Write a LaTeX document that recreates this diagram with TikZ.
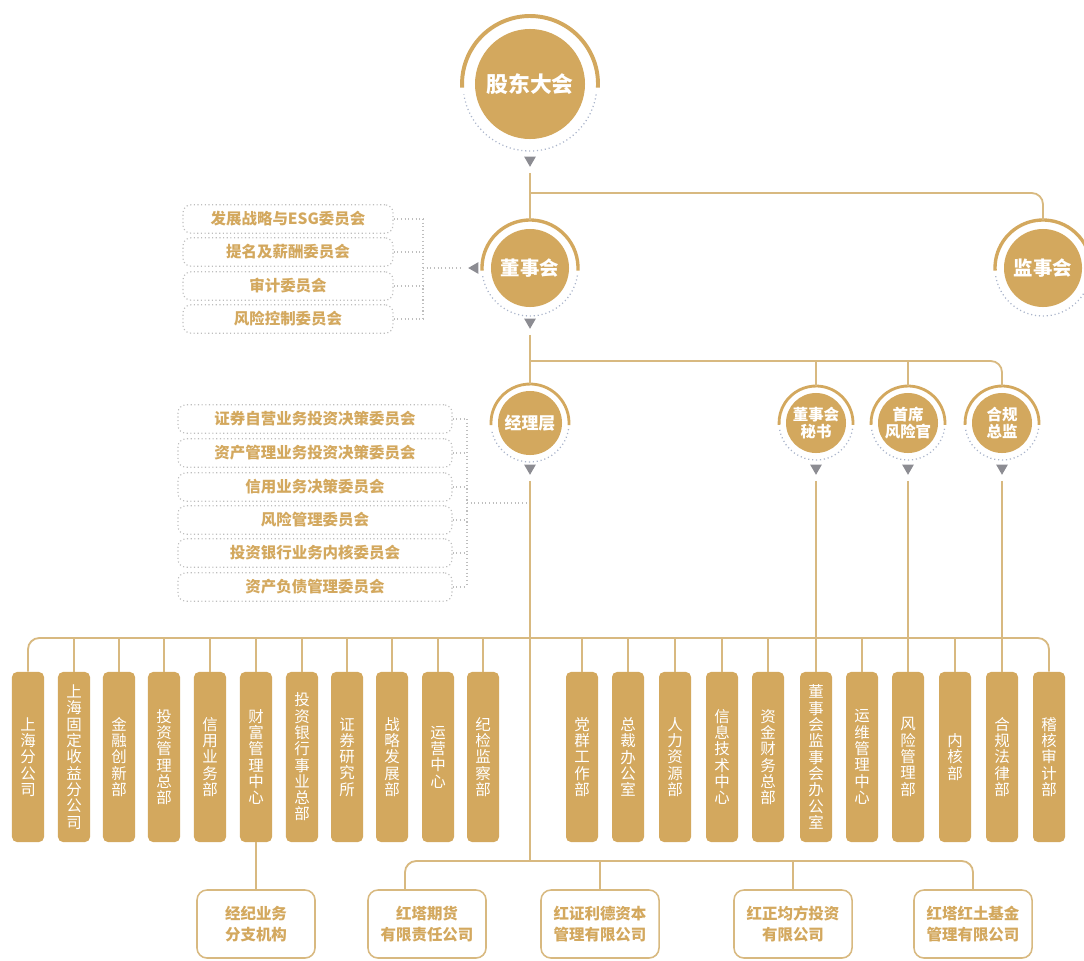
\documentclass[tikz,border=0pt]{standalone}
\usepackage{fontspec}
\setmainfont{Noto Sans CJK SC}
\usetikzlibrary{shapes.geometric}
\definecolor{gold}{RGB}{211,168,94}
\definecolor{linegold}{RGB}{216,185,128}
\definecolor{ringdot}{RGB}{170,180,202}
\definecolor{trigray}{RGB}{140,140,146}
\definecolor{boxdot}{RGB}{190,190,190}

\begin{document}
\begin{tikzpicture}[x=0.025cm, y=0.025cm,
  goldline/.style={draw=linegold, line width=1.3pt},
  ringline/.style={draw=gold, line width=2pt},
  ringdots/.style={draw=ringdot, line width=0.9pt, dash pattern=on 0.8pt off 2pt},
  dotline/.style={draw=boxdot, line width=0.8pt, dash pattern=on 0.8pt off 1.8pt},
  tri/.style={regular polygon, regular polygon sides=3, fill=trigray, inner sep=0pt, minimum size=0.34cm, shape border rotate=180},
  hub/.style={circle, fill=gold, text=white, inner sep=0pt, align=center},
  dept/.style={rectangle, rounded corners=0.125cm, fill=gold, text=white, minimum width=0.8cm, minimum height=4.25cm, align=center, inner sep=0pt, font=\fontsize{11}{11.6}\selectfont},
  cmte/.style={rectangle, rounded corners=0.2cm, draw=boxdot, line width=0.8pt, dash pattern=on 0.8pt off 1.8pt, text=gold, font=\bfseries\fontsize{11}{12}\selectfont, minimum height=0.71cm},
  sub/.style={rectangle, rounded corners=0.25cm, draw=linegold, line width=1.1pt, fill=white, text=gold, font=\bfseries\fontsize{11}{15.5}\selectfont, align=center, minimum width=2.95cm, minimum height=1.7cm}
]
\useasboundingbox (0,0) rectangle (1084,-960);

% top circles
\node [hub, minimum size=2.75cm, font=\bfseries\fontsize{15.5}{18}\selectfont] (sh) at (530,-84) {股东大会};
\draw [ringline, line width=2.8pt] ([shift={(-3:68)}]sh.center) arc (-3:183:68);
\draw [ringdots] ([shift={(-9:67)}]sh.center) arc (-9:-171:67);
\node [tri] (shtri) at (530,-160) {};

\node [hub, minimum size=1.95cm, outer sep=0.225cm, font=\bfseries\fontsize{13.8}{16}\selectfont] (board) at (530,-268) {董事会};
\draw [ringline, line width=2.4pt] ([shift={(-3:48)}]board.center) arc (-3:183:48);
\draw [ringdots] ([shift={(-9:48)}]board.center) arc (-9:-171:48);
\node [tri] (bdtri) at (530,-322) {};
\node [tri, shape border rotate=90] (bdleft) at (475,-268) {};

\node [hub, minimum size=1.95cm, outer sep=0.225cm, font=\bfseries\fontsize{13.8}{16}\selectfont] (sup) at (1043,-268) {监事会};
\draw [ringline, line width=2.4pt] ([shift={(-3:48)}]sup.center) arc (-3:183:48);
\draw [ringdots] ([shift={(-9:48)}]sup.center) arc (-9:-171:48);

% second row of circles
\node [hub, minimum size=1.6cm, outer sep=0.175cm, font=\bfseries\fontsize{12}{14}\selectfont] (mgr) at (530,-423) {经理层};
\draw [ringline] ([shift={(-3:39)}]mgr.center) arc (-3:183:39);
\draw [ringdots] ([shift={(-9:39)}]mgr.center) arc (-9:-171:39);
\node [tri] (mgtri) at (530,-468) {};

\node [hub, minimum size=1.5cm, outer sep=0.175cm, font=\bfseries\fontsize{11}{12}\selectfont] (sec) at (816,-423) {董事会\\秘书};
\draw [ringline] ([shift={(-3:37)}]sec.center) arc (-3:183:37);
\draw [ringdots] ([shift={(-9:37)}]sec.center) arc (-9:-171:37);
\node [tri] (sectri) at (816,-468) {};

\node [hub, minimum size=1.5cm, outer sep=0.175cm, font=\bfseries\fontsize{11}{12}\selectfont] (cro) at (908,-423) {首席\\风险官};
\draw [ringline] ([shift={(-3:37)}]cro.center) arc (-3:183:37);
\draw [ringdots] ([shift={(-9:37)}]cro.center) arc (-9:-171:37);
\node [tri] (crotri) at (908,-468) {};

\node [hub, minimum size=1.5cm, outer sep=0.175cm, font=\bfseries\fontsize{11}{12}\selectfont] (cmp) at (1002,-423) {合规\\总监};
\draw [ringline] ([shift={(-3:37)}]cmp.center) arc (-3:183:37);
\draw [ringdots] ([shift={(-9:37)}]cmp.center) arc (-9:-171:37);
\node [tri] (cmptri) at (1002,-468) {};

% board committees
\node [cmte, minimum width=5.25cm] (bc1) at (288,-219) {发展战略与ESG委员会};
\node [cmte, minimum width=5.25cm] (bc2) at (288,-252) {提名及薪酬委员会};
\node [cmte, minimum width=5.25cm] (bc3) at (288,-286) {审计委员会};
\node [cmte, minimum width=5.25cm] (bc4) at (288,-319) {风险控制委员会};
\coordinate (bcj) at (423,-268);
\draw [dotline] (bc1.east) -- (bc1.east -| bcj);
\draw [dotline] (bc2.east) -- (bc2.east -| bcj);
\draw [dotline] (bc3.east) -- (bc3.east -| bcj);
\draw [dotline] (bc4.east) -- (bc4.east -| bcj);
\draw [dotline] (bc1.east -| bcj) -- (bc4.east -| bcj);
\draw [dotline, shorten >=4pt] (bcj) -- (bdleft);

% manager committees
\node [cmte, minimum width=6.85cm] (mc1) at (315,-419) {证券自营业务投资决策委员会};
\node [cmte, minimum width=6.85cm] (mc2) at (315,-453) {资产管理业务投资决策委员会};
\node [cmte, minimum width=6.85cm] (mc3) at (315,-487) {信用业务决策委员会};
\node [cmte, minimum width=6.85cm] (mc4) at (315,-520) {风险管理委员会};
\node [cmte, minimum width=6.85cm] (mc5) at (315,-553) {投资银行业务内核委员会};
\node [cmte, minimum width=6.85cm] (mc6) at (315,-587) {资产负债管理委员会};
\coordinate (mcj) at (467,-503);
\draw [dotline] (mc1.east) -- (mc1.east -| mcj);
\draw [dotline] (mc2.east) -- (mc2.east -| mcj);
\draw [dotline] (mc3.east) -- (mc3.east -| mcj);
\draw [dotline] (mc4.east) -- (mc4.east -| mcj);
\draw [dotline] (mc5.east) -- (mc5.east -| mcj);
\draw [dotline] (mc6.east) -- (mc6.east -| mcj);
\draw [dotline] (mc1.east -| mcj) -- (mc6.east -| mcj);
\draw [dotline] (mcj) -- (mcj -| mgr);

% departments
\node [dept] (d1) at (28,-757) {上\\海\\分\\公\\司};
\node [dept] (d2) at (74,-757) {上\\海\\固\\定\\收\\益\\分\\公\\司};
\node [dept] (d3) at (119,-757) {金\\融\\创\\新\\部};
\node [dept] (d4) at (164,-757) {投\\资\\管\\理\\总\\部};
\node [dept] (d5) at (210,-757) {信\\用\\业\\务\\部};
\node [dept] (d6) at (256,-757) {财\\富\\管\\理\\中\\心};
\node [dept] (d7) at (302,-757) {投\\资\\银\\行\\事\\业\\总\\部};
\node [dept] (d8) at (347,-757) {证\\券\\研\\究\\所};
\node [dept] (d9) at (392,-757) {战\\略\\发\\展\\部};
\node [dept] (d10) at (438,-757) {运\\营\\中\\心};
\node [dept] (d11) at (483,-757) {纪\\检\\监\\察\\部};
\node [dept] (d12) at (582,-757) {党\\群\\工\\作\\部};
\node [dept] (d13) at (628,-757) {总\\裁\\办\\公\\室};
\node [dept] (d14) at (675,-757) {人\\力\\资\\源\\部};
\node [dept] (d15) at (722,-757) {信\\息\\技\\术\\中\\心};
\node [dept] (d16) at (768,-757) {资\\金\\财\\务\\总\\部};
\node [dept] (d17) at (816,-757) {董\\事\\会\\监\\事\\会\\办\\公\\室};
\node [dept] (d18) at (862,-757) {运\\维\\管\\理\\中\\心};
\node [dept] (d19) at (908,-757) {风\\险\\管\\理\\部};
\node [dept] (d20) at (955,-757) {内\\核\\部};
\node [dept] (d21) at (1002,-757) {合\\规\\法\\律\\部};
\node [dept] (d22) at (1049,-757) {稽\\核\\审\\计\\部};

% subsidiaries
\node [sub] (s1) at (256,-924) {经纪业务\\分支机构};
\node [sub] (s2) at (427,-924) {红塔期货\\有限责任公司};
\node [sub] (s3) at (600,-924) {红证利德资本\\管理有限公司};
\node [sub] (s4) at (793,-924) {红正均方投资\\有限公司};
\node [sub] (s5) at (973,-924) {红塔红土基金\\管理有限公司};

% gold connectors
\draw [goldline, shorten <=4pt] (shtri) -- (board);
\coordinate (shj) at (530,-193);
\draw [goldline, rounded corners=8pt] (shj) -| (sup.north);

\draw [goldline, shorten <=4pt] (bdtri) -- (mgr.north);
\coordinate (bdj) at (530,-361);
\draw [goldline] (bdj) -| (sec.north);
\draw [goldline] (bdj) -| (cro.north);
\draw [goldline, rounded corners=8pt] (bdj) -| (cmp.north);

\coordinate (dpj) at (530,-638);
\coordinate (subj) at (530,-861);
\draw [goldline, shorten <=4pt] (mgtri) -- (subj);
\draw [goldline, rounded corners=8pt] (d1.north) |- (dpj);
\draw [goldline, rounded corners=8pt] (d22.north) |- (dpj);
\draw [goldline] (d2.north) -- (d2.north |- dpj) (d3.north) -- (d3.north |- dpj)
  (d4.north) -- (d4.north |- dpj) (d5.north) -- (d5.north |- dpj)
  (d6.north) -- (d6.north |- dpj) (d7.north) -- (d7.north |- dpj)
  (d8.north) -- (d8.north |- dpj) (d9.north) -- (d9.north |- dpj)
  (d10.north) -- (d10.north |- dpj) (d11.north) -- (d11.north |- dpj)
  (d12.north) -- (d12.north |- dpj) (d13.north) -- (d13.north |- dpj)
  (d14.north) -- (d14.north |- dpj) (d15.north) -- (d15.north |- dpj)
  (d16.north) -- (d16.north |- dpj) (d18.north) -- (d18.north |- dpj)
  (d20.north) -- (d20.north |- dpj);
\draw [goldline, shorten <=4pt] (sectri) -- (d17);
\draw [goldline, shorten <=4pt] (crotri) -- (d19);
\draw [goldline, shorten <=4pt] (cmptri) -- (d21);

\draw [goldline] (d6.south) -- (s1.north);
\draw [goldline, rounded corners=8pt] ([xshift=-0.55cm]s2.north) |- (subj);
\draw [goldline, rounded corners=8pt] (s5.north) |- (subj);
\draw [goldline] (s3.north) -- (s3.north |- subj) (s4.north) -- (s4.north |- subj);
\end{tikzpicture}
\end{document}
